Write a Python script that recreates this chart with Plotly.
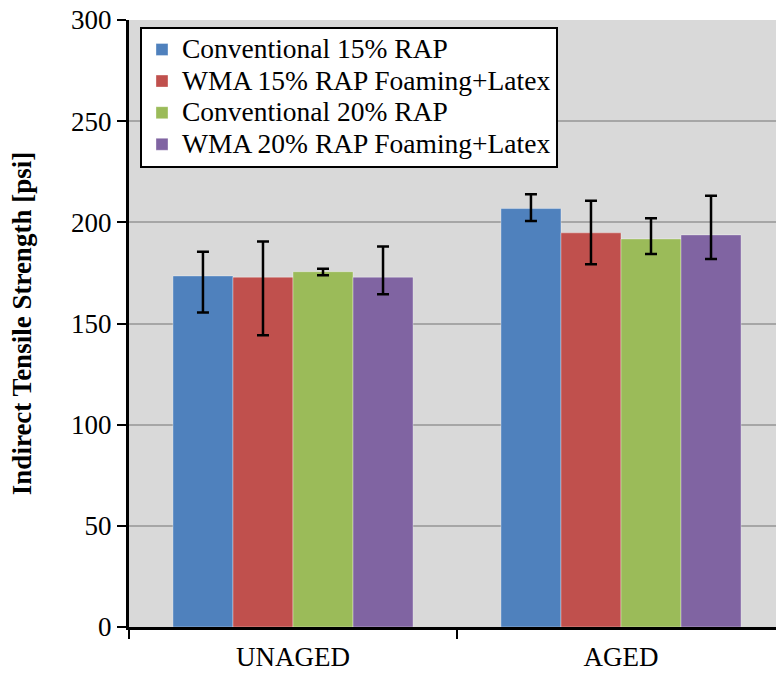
import plotly.graph_objects as go

categories = ["UNAGED", "AGED"]
series_names = ["Conventional 15% RAP", "WMA 15% RAP Foaming+Latex",
                "Conventional 20% RAP", "WMA 20% RAP Foaming+Latex"]
colors = ["#4F81BD", "#C0504D", "#9BBB59", "#8064A2"]

# mean strength and error bar extents (psi)
means = [[173.5, 206.8], [172.9, 194.8], [175.6, 191.8], [172.9, 193.8]]
err_plus = [[11.9, 7.1], [17.6, 15.9], [1.4, 10.2], [15.1, 19.3]]
err_minus = [[18.1, 6.1], [28.7, 15.5], [1.8, 7.4], [8.4, 11.9]]

font = "Liberation Serif, Times New Roman, serif"

fig = go.Figure()
for i in range(4):
    fig.add_trace(go.Bar(
        x=categories, y=means[i],
        # bigger text inside the legend entry, legend font kept small for tighter rows
        name='<span style="font-size:27.5px">' + series_names[i] + '</span>',
        marker=dict(color=colors[i], line=dict(color="rgba(255,255,255,0.35)", width=1)),
        error_y=dict(type="data", symmetric=False, array=err_plus[i], arrayminus=err_minus[i],
                     color="black", thickness=2.5, width=6),
    ))

fig.update_layout(
    width=776, height=675,
    margin=dict(l=129, r=0, t=20, b=48),
    paper_bgcolor="white", plot_bgcolor="#D9D9D9",
    barmode="group", bargap=0.268, bargroupgap=0,
    font=dict(family=font, size=27, color="black"),
    showlegend=True,
    legend=dict(x=0.017, y=0.989, xanchor="left", yanchor="top",
                bgcolor="white", bordercolor="black", borderwidth=2,
                font=dict(size=22, family=font), tracegroupgap=0),
    xaxis=dict(range=[-0.5, 1.4726], showline=True, linecolor="black", linewidth=3,
               ticks="outside", tickson="boundaries", ticklen=9, tickwidth=2, tickcolor="black",
               showgrid=False, tickfont=dict(size=27, family=font), ticklabelstandoff=4),
    yaxis=dict(range=[0, 300], dtick=50, showline=True, linecolor="black", linewidth=3,
               ticks="outside", ticklen=9, tickwidth=2, tickcolor="black",
               showgrid=True, gridcolor="#A6A6A6", gridwidth=2, zeroline=False,
               tickfont=dict(size=27, family=font),
               title=dict(text="<b>Indirect Tensile Strength [psi]</b>",
                          font=dict(size=27, family=font), standoff=32)),
)

fig.write_html("out.html", config={"displayModeBar": False},
               post_script="document.body.style.margin='0';")
